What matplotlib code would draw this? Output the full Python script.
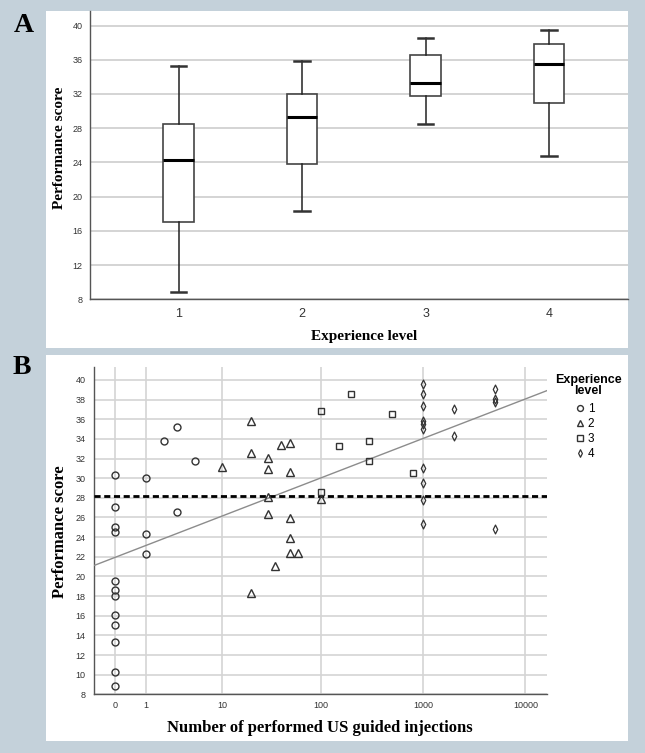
import numpy as np
import matplotlib
matplotlib.use("Agg")
import matplotlib.pyplot as plt
from matplotlib.patches import Rectangle
from matplotlib.path import Path

# ---------------- Data ----------------
# Panel A: box statistics per experience level
levels = [1, 2, 3, 4]
whisker_low = [8.8, 18.3, 28.5, 24.8]
q1 = [17.0, 23.8, 31.8, 31.0]
medians = [24.3, 29.3, 33.3, 35.55]
q3 = [28.5, 32.0, 36.5, 37.8]
whisker_high = [35.3, 35.8, 38.5, 39.5]
a_yticks = [8, 12, 16, 20, 24, 28, 32, 36, 40]

# Panel B: number of performed US guided injections vs performance score
lvl1_x = [0, 0, 0, 0, 0, 0, 0, 0, 0, 0, 0, 0, 1, 1, 1, 2, 3, 3, 5]
lvl1_y = [30.3, 27.05, 25.05, 24.55, 19.55, 18.6, 18.05, 16.05, 15.05, 13.3, 10.3, 8.8,
          30.05, 24.3, 22.3, 33.8, 35.25, 26.55, 31.8]
lvl2_x = [10, 20, 20, 20, 30, 30, 30, 30, 35, 40, 50, 50, 50, 50, 50, 60, 100]
lvl2_y = [31.1, 35.85, 32.6, 18.35, 32.1, 30.9, 28.1, 26.4, 21.1, 33.4, 33.6, 30.6,
          25.9, 23.9, 22.4, 22.4, 27.85]
lvl3_x = [100, 100, 150, 200, 300, 300, 500, 800]
lvl3_y = [36.8, 28.55, 33.3, 38.55, 33.8, 31.8, 36.55, 30.55]
lvl4_x = [1000, 1000, 1000, 1000, 1000, 1000, 1000, 1000, 1000, 1000,
          2000, 2000, 5000, 5000, 5000, 5000]
lvl4_y = [39.55, 38.55, 37.3, 35.85, 35.55, 35.0, 31.05, 29.55, 27.8, 25.3,
          37.0, 34.3, 39.05, 38.05, 37.8, 24.85]
b_xticks = [0, 1, 10, 100, 1000, 10000]
b_yticks = list(range(8, 41, 2))
reg_intercept = 21.95   # fit line in log10(x+1) space
reg_slope = 4.03
cutoff_score = 28.15

# ---------------- Style ----------------
BG = "#c4d1da"
GRID = "#d4d4d4"
SPINE = "#555555"
TICKC = "#333333"
serif = "Liberation Serif"
sans = "Liberation Sans"

W, H = 645, 753
fig = plt.figure(figsize=(W / 100, H / 100), dpi=100)
fig.patch.set_facecolor(BG)

def fx(px):
    return px / W

def fy(py):
    return 1 - py / H

# white panels
for top, bot in [(11, 348), (355, 741)]:
    fig.patches.append(Rectangle((fx(46), fy(bot)), fx(628) - fx(46), fy(top) - fy(bot),
                                 transform=fig.transFigure, facecolor="white",
                                 edgecolor="none", zorder=-5))

# ---------------- Panel A ----------------
axA = fig.add_axes([fx(89.7), fy(299.3), fx(628) - fx(89.7), fy(11) - fy(299.3)])
axA.set_facecolor("none")
stats = []
for i in range(len(levels)):
    stats.append(dict(med=medians[i], q1=q1[i], q3=q3[i], whislo=whisker_low[i],
                      whishi=whisker_high[i], fliers=[], label=str(levels[i])))
axA.bxp(stats, positions=levels, widths=0.25, capwidths=0.125, showfliers=False,
        patch_artist=True,
        boxprops=dict(facecolor="white", edgecolor="#444444", linewidth=1.2),
        medianprops=dict(color="black", linewidth=2.2),
        whiskerprops=dict(color="#222222", linewidth=1.1),
        capprops=dict(color="#333333", linewidth=1.8), zorder=3)
axA.set_xlim(0.28, 4.64)
axA.set_ylim(8, 41.7)
axA.set_yticks(a_yticks)
axA.yaxis.grid(True, color=GRID, linewidth=1.4, zorder=0)
axA.set_axisbelow(True)
for s in ["top", "right"]:
    axA.spines[s].set_visible(False)
for s in ["left", "bottom"]:
    axA.spines[s].set_color(SPINE)
    axA.spines[s].set_linewidth(1.0)
axA.tick_params(axis="both", length=0, colors=TICKC)
axA.tick_params(axis="y", labelsize=6.5, pad=5)
axA.tick_params(axis="x", labelsize=9, pad=6)
for t in axA.get_xticklabels() + axA.get_yticklabels():
    t.set_fontfamily(sans)
fig.text(fx(364), fy(336), "Experience level", family=serif, fontweight="bold",
         fontsize=11, ha="center", va="center")
fig.text(fx(59.6), fy(148), "Performance score", family=serif, fontweight="bold",
         fontsize=11, ha="center", va="center", rotation=90)
fig.text(fx(24), fy(25), "A", family=serif, fontweight="bold", fontsize=20,
         ha="center", va="center")

# ---------------- Panel B ----------------
axB = fig.add_axes([fx(93.8), fy(694.3), fx(547) - fx(93.8), fy(366.7) - fy(694.3)])
axB.set_facecolor("none")

def tx(vals):
    return np.log10(np.asarray(vals, dtype=float) + 1)

diamond = Path([(0, 1), (0.5, 0), (0, -1), (-0.5, 0), (0, 1)],
               [Path.MOVETO, Path.LINETO, Path.LINETO, Path.LINETO, Path.CLOSEPOLY])
MEC = "#333333"
axB.plot(tx(lvl1_x), lvl1_y, "o", ms=5.0, mfc="none", mec=MEC, mew=1.0, zorder=4, label="1")
axB.plot(tx(lvl2_x), lvl2_y, "^", ms=5.4, mfc="none", mec=MEC, mew=1.0, zorder=4, label="2")
axB.plot(tx(lvl3_x), lvl3_y, "s", ms=5.0, mfc="none", mec=MEC, mew=1.0, zorder=4, label="3")
axB.plot(tx(lvl4_x), lvl4_y, marker=diamond, ls="none", ms=6.4, mfc="none", mec=MEC,
         mew=0.9, zorder=4, label="4")

xlo, xhi = -0.21, 4.21
xr = np.array([xlo, xhi])
axB.plot(xr, reg_intercept + reg_slope * xr, color="#8c8c8c", linewidth=1.0, zorder=3)
axB.axhline(cutoff_score, color="black", linewidth=2.0, linestyle=(0, (2.2, 1.3)), zorder=3.5)

axB.set_xlim(xlo, xhi)
axB.set_ylim(8, 41.35)
axB.set_xticks(tx(b_xticks))
axB.set_xticklabels([str(v) for v in b_xticks])
axB.set_yticks(b_yticks)
axB.grid(True, color=GRID, linewidth=1.2, zorder=0)
axB.set_axisbelow(True)
for s in ["top", "right"]:
    axB.spines[s].set_visible(False)
for s in ["left", "bottom"]:
    axB.spines[s].set_color(SPINE)
    axB.spines[s].set_linewidth(1.0)
axB.tick_params(axis="both", length=0, colors=TICKC, labelsize=6.5)
axB.tick_params(axis="y", pad=6)
axB.tick_params(axis="x", pad=4.5)
for t in axB.get_xticklabels() + axB.get_yticklabels():
    t.set_fontfamily(sans)

handles, labels = axB.get_legend_handles_labels()
leg = fig.legend(handles, labels, loc="upper left", bbox_to_anchor=(fx(574), fy(403)),
                 frameon=False, prop=dict(family=sans, size=8.5), handletextpad=0.15,
                 labelspacing=0.25, handlelength=1.0, markerscale=0.85, borderaxespad=0,
                 borderpad=0)
fig.text(fx(588), fy(385.5), "Experience\nlevel", family=sans, fontweight="bold",
         fontsize=9, ha="center", va="center", linespacing=1.0)

fig.text(fx(320), fy(728), "Number of performed US guided injections", family=serif,
         fontweight="bold", fontsize=12, ha="center", va="center")
fig.text(fx(59.6), fy(531.7), "Performance score", family=serif, fontweight="bold",
         fontsize=12, ha="center", va="center", rotation=90)
fig.text(fx(22), fy(368), "B", family=serif, fontweight="bold", fontsize=20,
         ha="center", va="center")

fig.savefig("out.png", dpi=100, facecolor=BG)
